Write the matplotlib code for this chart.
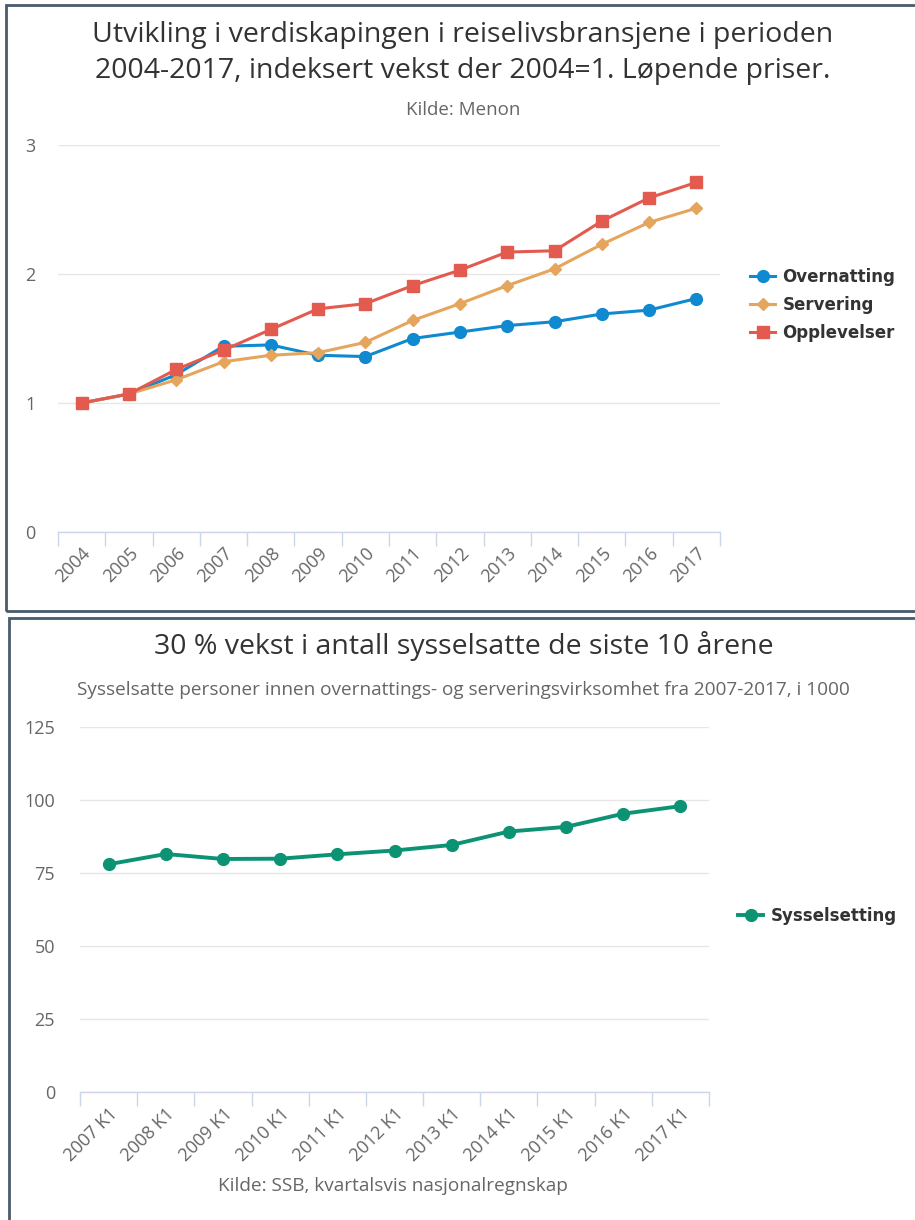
import matplotlib
matplotlib.use("Agg")
import matplotlib.pyplot as plt
from matplotlib import font_manager
from matplotlib.patches import Rectangle

# ---- data: value creation index (2004 = 1) ----
years = ['2004', '2005', '2006', '2007', '2008', '2009', '2010',
         '2011', '2012', '2013', '2014', '2015', '2016', '2017']
overnatting = [1.00, 1.07, 1.22, 1.44, 1.45, 1.37, 1.36,
               1.50, 1.55, 1.60, 1.63, 1.69, 1.72, 1.81]
servering = [1.00, 1.07, 1.18, 1.32, 1.37, 1.39, 1.47,
             1.64, 1.77, 1.91, 2.04, 2.23, 2.40, 2.51]
opplevelser = [1.00, 1.07, 1.26, 1.41, 1.57, 1.73, 1.77,
               1.91, 2.03, 2.17, 2.18, 2.41, 2.59, 2.71]

# ---- data: employment, thousands ----
quarters = ['2007 K1', '2008 K1', '2009 K1', '2010 K1', '2011 K1', '2012 K1',
            '2013 K1', '2014 K1', '2015 K1', '2016 K1', '2017 K1']
sysselsetting = [78.0, 81.5, 79.8, 79.9, 81.4, 82.7, 84.6, 89.2, 90.8, 95.3, 97.9]

W, H = 915, 1220
names = {f.name for f in font_manager.fontManager.ttflist}
NARROW = 'Liberation Sans Narrow' if 'Liberation Sans Narrow' in names else 'Open Sans'
plt.rcParams['font.family'] = [NARROW, 'DejaVu Sans']

BLUE, ORANGE, RED, GREEN = '#0f89cf', '#e6a55c', '#e35a4f', '#0c9373'
GRID, AXIS, TXT, SUB = '#e6e6e6', '#ccd6eb', '#333333', '#666666'
FRAME = '#4a5b6c'
LEGEND_FONT = {'family': 'DejaVu Sans', 'weight': 'bold', 'size': 12}


def box(l, t, r, b):
    return [l / W, 1 - b / H, (r - l) / W, (b - t) / H]


def fx(x):
    return x / W


def fy(y):
    return 1 - y / H


def style_axes(ax, n, ymax, yticks, ypad):
    ax.set_xlim(-0.5, n - 0.5)
    ax.set_ylim(0, ymax)
    for s in ['top', 'right', 'left']:
        ax.spines[s].set_visible(False)
    ax.spines['bottom'].set_color(AXIS)
    ax.spines['bottom'].set_linewidth(1)
    ax.set_yticks(yticks)
    ax.yaxis.grid(True, color=GRID, lw=1)
    ax.set_axisbelow(True)
    ax.tick_params(axis='y', length=0, pad=ypad, labelsize=13, labelcolor=SUB)
    ax.set_xticks(range(n))
    ax.set_xticks([i - 0.5 for i in range(n + 1)], minor=True)
    ax.tick_params(axis='x', which='major', length=0, pad=9, labelsize=13,
                   labelcolor=SUB)
    ax.tick_params(axis='x', which='minor', length=10, width=1, color=AXIS)
    for lab in ax.get_xticklabels():
        lab.set_rotation(45)
        lab.set_ha('right')
        lab.set_va('top')
        lab.set_rotation_mode('anchor')


fig = plt.figure(figsize=(W / 100, H / 100), dpi=100)
fig.patch.set_facecolor('white')

# panel frames (right side runs off the canvas)
fig.add_artist(Rectangle((fx(6), fy(611)), (930 - 6) / W, (611 - 5) / H,
                         transform=fig.transFigure, fill=False,
                         ec=FRAME, lw=2))
fig.add_artist(Rectangle((fx(9), fy(1240)), (930 - 9) / W, (1240 - 618) / H,
                         transform=fig.transFigure, fill=False,
                         ec=FRAME, lw=2))

# ---- top chart ----
ax1 = fig.add_axes(box(58, 145, 720, 532))
x = range(len(years))
l1, = ax1.plot(x, overnatting, color=BLUE, lw=2.2, marker='o', ms=8.5,
               label='Overnatting', zorder=3)
l2, = ax1.plot(x, servering, color=ORANGE, lw=2.2, marker='D', ms=6,
               label='Servering', zorder=3)
l3, = ax1.plot(x, opplevelser, color=RED, lw=2.2, marker='s', ms=8.5,
               label='Opplevelser', zorder=4)
ax1.set_xticklabels(years)
style_axes(ax1, len(years), 3, [0, 1, 2, 3], 16)

fig.text(fx(463), fy(35), 'Utvikling i verdiskapingen i reiselivsbransjene i perioden',
         ha='center', va='center', fontsize=20.5, color=TXT)
fig.text(fx(463), fy(71), '2004-2017, indeksert vekst der 2004=1. Løpende priser.',
         ha='center', va='center', fontsize=20.5, color=TXT)
fig.text(fx(463), fy(110), 'Kilde: Menon', ha='center', va='center',
         fontsize=13.5, color=SUB)

fig.legend(handles=[l1, l2, l3], loc='center left',
           bbox_to_anchor=(fx(735), fy(305)), frameon=False,
           handlelength=1.5, handletextpad=0.45, labelspacing=0.6,
           prop=LEGEND_FONT, labelcolor=TXT)

# ---- bottom chart ----
ax2 = fig.add_axes(box(80, 727, 709, 1092))
x2 = range(len(quarters))
l4, = ax2.plot(x2, sysselsetting, color=GREEN, lw=2.8, marker='o', ms=8.5,
               label='Sysselsetting', zorder=3)
ax2.set_xticklabels(quarters)
style_axes(ax2, len(quarters), 125, [0, 25, 50, 75, 100, 125], 18)

fig.text(fx(464), fy(646), '30 % vekst i antall sysselsatte de siste 10 årene',
         ha='center', va='center', fontsize=20.5, color=TXT)
fig.text(fx(463), fy(690),
         'Sysselsatte personer innen overnattings- og serveringsvirksomhet fra 2007-2017, i 1000',
         ha='center', va='center', fontsize=13.7, color=SUB)
fig.text(fx(393), fy(1186), 'Kilde: SSB, kvartalsvis nasjonalregnskap',
         ha='center', va='center', fontsize=13.7, color=SUB)

fig.legend(handles=[l4], loc='center left',
           bbox_to_anchor=(fx(723), fy(916)), frameon=False,
           handlelength=1.5, handletextpad=0.45,
           prop=LEGEND_FONT, labelcolor=TXT)

fig.savefig('out.png', dpi=100)
